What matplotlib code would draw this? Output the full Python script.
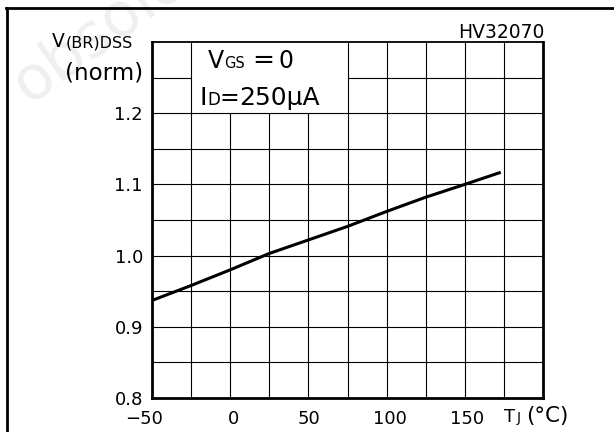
import matplotlib
matplotlib.use("Agg")
import matplotlib.pyplot as plt
from matplotlib.lines import Line2D
from matplotlib.transforms import ScaledTranslation

# Data
temp_c = [-50, -25, 0, 25, 50, 75, 100, 125, 150, 173]
bvdss_norm = [0.937, 0.958, 0.980, 1.003, 1.022, 1.041, 1.062, 1.082, 1.100, 1.117]

x_ticks = [-50, 0, 50, 100, 150]
x_tick_labels = ["\u221250", "0", "50", "100", "150"]
y_ticks = [0.8, 0.9, 1.0, 1.1, 1.2]
y_tick_labels = ["0.8", "0.9", "1.0", "1.1", "1.2"]
x_grid = [-25, 0, 25, 50, 75, 100, 125, 150, 175]
y_grid = [0.85, 0.9, 0.95, 1.0, 1.05, 1.1, 1.15, 1.2, 1.25]

W, H = 614, 432
plt.rcParams['font.family'] = ['DejaVu Sans']
fig = plt.figure(figsize=(W / 100, H / 100), dpi=100)

def fx(px):
    return px / W

def fy(py):
    return 1 - py / H

# faint watermark
fig.text(fx(2), fy(102), "obsolete", rotation=36, fontsize=44, color="#efefef",
         ha="left", va="baseline", zorder=0)

ax = fig.add_axes([fx(152), fy(398), fx(543) - fx(152), fy(42) - fy(398)])
ax.set_xlim(-50, 200)
ax.set_ylim(0.8, 1.3)
ax.patch.set_alpha(0)

# grid (with blank box for the conditions text)
for xv in x_grid:
    top = 1.2 if -25 < xv < 75 else 1.3
    ax.vlines(xv, 0.8, top, color="black", lw=0.8, zorder=1)
for yv in y_grid:
    if yv > 1.2:
        ax.hlines(yv, -50, -25, color="black", lw=0.8, zorder=1)
        ax.hlines(yv, 75, 200, color="black", lw=0.8, zorder=1)
    else:
        ax.hlines(yv, -50, 200, color="black", lw=0.8, zorder=1)

ax.plot(temp_c, bvdss_norm, color="black", lw=2.2, zorder=3, solid_capstyle="butt")

for side in ["left", "bottom", "right"]:
    ax.spines[side].set_linewidth(2.0)
ax.spines["top"].set_linewidth(1.3)

ax.set_xticks(x_ticks)
ax.set_xticklabels(x_tick_labels)
ax.set_yticks(y_ticks)
ax.set_yticklabels(y_tick_labels)
ax.tick_params(length=0, labelsize=13)
ax.tick_params(axis="y", pad=6.5)
ax.tick_params(axis="x", pad=9)

shifts = [-8, 3, 1, 3, 2]
for lab, dx in zip(ax.get_xticklabels(), shifts):
    lab.set_transform(lab.get_transform() + ScaledTranslation(dx / 100, 0, fig.dpi_scale_trans))

# outer frame
fig.add_artist(Line2D([fx(6.5), fx(6.5)], [0, fy(8)], color="black", lw=2.0))
fig.add_artist(Line2D([fx(5.5), 1], [fy(8), fy(8)], color="black", lw=2.0))

# y label
fig.text(fx(52), fy(47), "V", fontsize=13.5, ha="left", va="baseline")
fig.text(fx(65.5), fy(47), "(BR)DSS", fontsize=11.5, ha="left", va="baseline")
fig.text(fx(143), fy(79), "(norm)", fontsize=16.5, ha="right", va="baseline")

# x label
fig.text(fx(504.5), fy(422), "T", fontsize=13, ha="left", va="baseline")
fig.text(fx(517), fy(422), "J", fontsize=10, ha="left", va="baseline")
fig.text(fx(526), fy(422), "(\u00b0C)", fontsize=15.5, ha="left", va="baseline")

# part number
fig.text(fx(545), fy(38), "HV32070", fontsize=13.5, ha="right", va="baseline")

# conditions
fig.text(fx(208), fy(68), "V", fontsize=17, ha="left", va="baseline")
fig.text(fx(224), fy(68), "GS", fontsize=10.5, ha="left", va="baseline")
fig.text(fx(252), fy(68), "=", fontsize=19, ha="left", va="baseline")
fig.text(fx(278), fy(68), "0", fontsize=17, ha="left", va="baseline")

fig.text(fx(199.5), fy(105), "I", fontsize=18, ha="left", va="baseline")
fig.text(fx(207.5), fy(105), "D", fontsize=12, ha="left", va="baseline")
fig.text(fx(220), fy(105), "=", fontsize=17, ha="left", va="baseline")
fig.text(fx(239), fy(105), "250\u00b5A", fontsize=18, ha="left", va="baseline")

fig.savefig("out.png", dpi=100)
